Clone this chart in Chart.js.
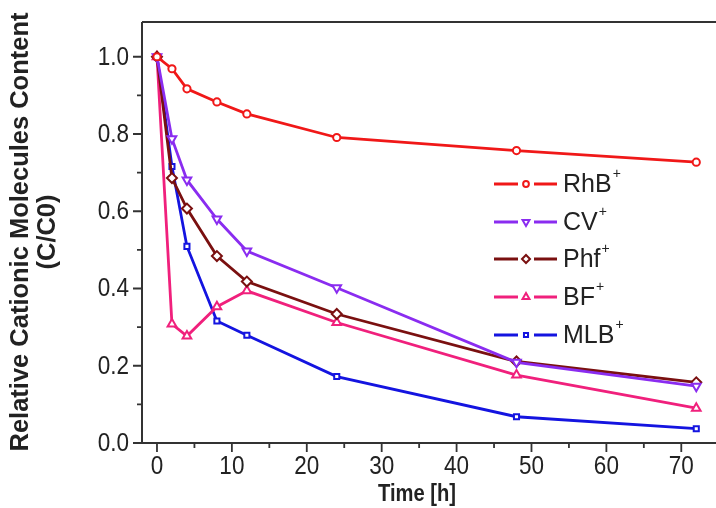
<!DOCTYPE html>
<html>
<head>
<meta charset="utf-8">
<script src="https://cdn.jsdelivr.net/npm/chart.js@4.4.1/dist/chart.umd.min.js"></script>
<style>
    html, body { margin: 0; padding: 0; background: #fff; }
    #wrap { width: 716px; height: 508px; }
</style>
</head>
<body>
<div id="wrap"><canvas id="grafico" width="716" height="508"></canvas></div>
<script>
// tempos de amostragem (h)
const tempos = [0, 2, 4, 8, 12, 24, 48, 72];

// C/C0 por corante
const rhb = [1.0, 0.969, 0.917, 0.883, 0.852, 0.791, 0.757, 0.727];
const cv  = [1.0, 0.788, 0.681, 0.580, 0.497, 0.402, 0.209, 0.147];
const phf = [1.0, 0.686, 0.607, 0.484, 0.418, 0.334, 0.211, 0.157];
const bf  = [1.0, 0.308, 0.277, 0.353, 0.394, 0.312, 0.176, 0.090];
const mlb = [1.0, 0.716, 0.509, 0.316, 0.279, 0.172, 0.068, 0.037];

const nomes = ["RhB", "CV", "Phf", "BF", "MLB"];
const cores = ["#f01818", "#8a2cf0", "#7a1010", "#f0207c", "#1414e0"];
const marcadores = ["circle", "triangle", "rectRot", "triangle", "rect"];
const rotacoes = [0, 180, 0, 0, 0];
const raios = [3.6, 5, 5, 5, 3.6];

const yTicks = [0.0, 0.2, 0.4, 0.6, 0.8, 1.0];
const xTicks = [0, 10, 20, 30, 40, 50, 60, 70];

const series = [rhb, cv, phf, bf, mlb];

const datasets = series.map((valores, i) => ({
    label: nomes[i],
    data: tempos.map((t, k) => ({ x: t, y: valores[k] })),
    showLine: true,
    borderColor: cores[i],
    borderWidth: 2.8,
    pointStyle: marcadores[i],
    rotation: rotacoes[i],
    pointRadius: raios[i],
    pointBorderWidth: 2,
    pointBackgroundColor: "#fff",
    pointBorderColor: cores[i],
    tension: 0
}));

// texto um pouco estreitado na horizontal, como no original
function texto(ctx, s, x, y, sx) {
    ctx.save();
    ctx.translate(x, y);
    ctx.scale(sx, 1);
    ctx.fillText(s, 0, 0);
    ctx.restore();
}

// eixos, ticks, titulos e legenda desenhados a mao
const moldura = {
    id: "moldura",
    afterDraw(chart) {
        const ctx = chart.ctx;
        const a = chart.chartArea;
        const xs = chart.scales.x;
        const ys = chart.scales.y;
        ctx.save();
        ctx.strokeStyle = "#333";
        ctx.lineWidth = 2;
        ctx.beginPath();
        ctx.moveTo(a.left, a.top);
        ctx.lineTo(716, a.top);
        ctx.moveTo(a.left, a.top);
        ctx.lineTo(a.left, a.bottom);
        ctx.lineTo(716, a.bottom);
        ctx.stroke();

        ctx.lineWidth = 1.8;
        ctx.beginPath();
        for (let v = 0; v <= 1.0001; v += 0.1) {
            const y = ys.getPixelForValue(v);
            const maior = Math.round(v * 10) % 2 === 0;
            ctx.moveTo(a.left, y);
            ctx.lineTo(a.left - (maior ? 9 : 5), y);
        }
        for (let v = 0; v <= 70; v += 5) {
            const x = xs.getPixelForValue(v);
            const maior = v % 10 === 0;
            ctx.moveTo(x, a.bottom);
            ctx.lineTo(x, a.bottom + (maior ? 9 : 5));
        }
        ctx.stroke();

        ctx.fillStyle = "#222";
        ctx.font = "25px 'Liberation Sans', Arial, sans-serif";
        ctx.textAlign = "right";
        ctx.textBaseline = "middle";
        yTicks.forEach(v => texto(ctx, v.toFixed(1), a.left - 13, ys.getPixelForValue(v) + 1, 0.9));
        ctx.textAlign = "center";
        ctx.textBaseline = "middle";
        xTicks.forEach(v => texto(ctx, String(v), xs.getPixelForValue(v), 467, 0.9));

        ctx.font = "bold 24px 'Liberation Sans', Arial, sans-serif";
        texto(ctx, "Time [h]", 417, 494, 0.84);

        ctx.save();
        ctx.translate(21, 232);
        ctx.rotate(-Math.PI / 2);
        ctx.font = "bold 26px 'Liberation Sans', Arial, sans-serif";
        ctx.textBaseline = "middle";
        texto(ctx, "Relative Cationic Molecules Content", 0, 0, 0.98);
        texto(ctx, "(C/C0)", 0, 27, 0.98);
        ctx.restore();

        // legenda
        const ly = [184, 222, 259, 297, 335];
        nomes.forEach((nome, i) => {
            const y = ly[i];
            ctx.strokeStyle = cores[i];
            ctx.lineWidth = 2.8;
            ctx.beginPath();
            ctx.moveTo(494, y); ctx.lineTo(518, y);
            ctx.moveTo(534, y); ctx.lineTo(557, y);
            ctx.stroke();
            ctx.lineWidth = 2;
            ctx.fillStyle = "#fff";
            Chart.helpers.drawPoint(ctx, {
                pointStyle: marcadores[i], rotation: rotacoes[i],
                radius: raios[i] * 0.8, borderWidth: 2
            }, 526, y);
            ctx.fillStyle = "#222";
            ctx.textAlign = "left";
            ctx.textBaseline = "middle";
            ctx.font = "25px 'Liberation Sans', Arial, sans-serif";
            ctx.fillText(nome, 563, y + 1);
            const w = ctx.measureText(nome).width;
            ctx.font = "14px 'Liberation Sans', Arial, sans-serif";
            ctx.fillText("+", 563 + w + 1, y - 10);
        });
        ctx.restore();
    }
};

new Chart(document.getElementById("grafico"), {
    type: "scatter",
    data: { datasets },
    options: {
        responsive: false,
        animation: false,
        layout: { padding: { left: 142, top: 22, right: 0, bottom: 65 } },
        plugins: { legend: { display: false }, tooltip: { enabled: false } },
        scales: {
            x: { type: "linear", min: -2, max: 73.7, display: false },
            y: { type: "linear", min: 0, max: 1.09, display: false }
        }
    },
    plugins: [moldura]
});
</script>
</body>
</html>
